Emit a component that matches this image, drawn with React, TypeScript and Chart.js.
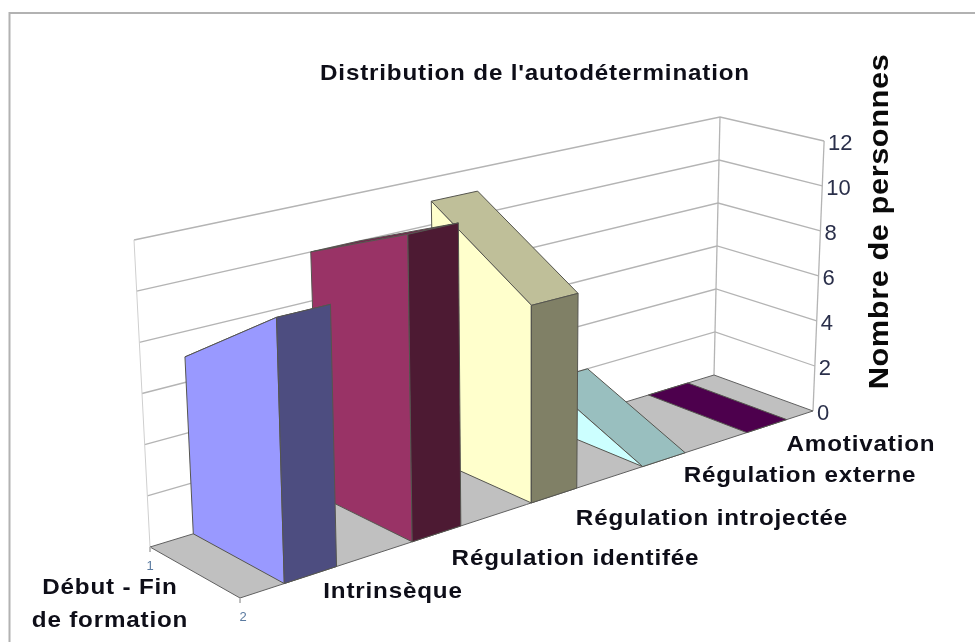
import React, { useEffect, useRef } from "react";
import { Chart, registerables } from "chart.js";

Chart.register(...registerables);

// ---- data ----
const categories = ["Intrinsèque", "Régulation identifée", "Régulation introjectée", "Régulation externe", "Amotivation"];
const debut = [7, 10, 11, 2, 0];
const fin = [10, 12, 8, 0, 0];
const depthLabels = ["1", "2"];
const valueTicks = [0, 2, 4, 6, 8, 10, 12];
const MAX_VALUE = 12;

const chartTitle = "Distribution de l'autodétermination";
const valueAxisTitle = "Nombre de personnes";
const depthAxisTitle = ["Début - Fin", "de formation"];

// ---- colours ----
const sideColors = ["#9999ff", "#993366", "#ffffcc", "#ccffff", "#660066"];
const topColors = ["#7373bf", "#73264d", "#bfbf99", "#99bfbf", "#4d004d"];
const frontColors = ["#4d4d80", "#4d1a33", "#808066", "#668080", "#330033"];

// ---- 3D projection of the box ----
const W = 975;
const H = 642;
const floorBox = { O: [150, 547], X: [714, 375], Y: [240, 598] };
const topBox = { O: [134, 240], X: [720, 117], Y: [229, 274.4] };
const wO = 0.8846;
const wX = 1.0409;
const wY = 0.8437;
const BAR_START = 0.33;
const BAR_END = 0.73;

type Pt = { x: number; y: number };

function planePoint(p: { O: number[]; X: number[]; Y: number[] }, u: number, v: number) {
  const w = wO + u * (wX - wO) + v * (wY - wO);
  const c = (i: number) =>
    wO * p.O[i] + u * (wX * p.X[i] - wO * p.O[i]) + v * (wY * p.Y[i] - wO * p.O[i]);
  return [c(0) / w, c(1) / w];
}

// u: along the categories 0..1, v: depth 0 (début) .. 1 (fin), value on the axis
function project(u: number, v: number, value: number): Pt {
  const a = planePoint(floorBox, u, v);
  const b = planePoint(topBox, u, v);
  const t = value / MAX_VALUE;
  return { x: a[0] + (b[0] - a[0]) * t, y: a[1] + (b[1] - a[1]) * t };
}

const line = (data: Pt[], color: string, width = 1) => ({
  data,
  showLine: true,
  fill: false,
  borderColor: color,
  borderWidth: width,
  pointRadius: 0,
  tension: 0,
});

const poly = (data: Pt[], color: string, edge = "#55554f") => ({
  data: [...data, data[0]],
  showLine: true,
  fill: "shape",
  backgroundColor: color,
  borderColor: edge,
  borderWidth: 1,
  pointRadius: 0,
  tension: 0,
});

function buildDatasets() {
  const paintOrder: any[] = [];
  // walls and grid
  const gridColor = "#b4b4b4";
  valueTicks.forEach((t) => {
    if (t === 0) return;
    paintOrder.push(line([project(0, 0, t), project(1, 0, t), project(1, 1, t)], gridColor, 1.3));
  });
  paintOrder.push(line([project(0, 0, 0), project(0, 0, MAX_VALUE)], "#cfcfcf", 1));
  paintOrder.push(line([project(1, 0, 0), project(1, 0, MAX_VALUE)], gridColor, 1.3));
  paintOrder.push(line([project(1, 1, 0), project(1, 1, MAX_VALUE)], gridColor, 1.3));
  // floor
  paintOrder.push(poly([project(0, 0, 0), project(1, 0, 0), project(1, 1, 0), project(0, 1, 0)], "#c0c0c0", "#606060"));
  // tick marks on the depth axis
  paintOrder.push(line([project(0, 0, 0), { x: project(0, 0, 0).x, y: project(0, 0, 0).y + 5 }], "#b4b4b4", 1));
  paintOrder.push(line([project(0, 1, 0), { x: project(0, 1, 0).x, y: project(0, 1, 0).y + 5 }], "#b4b4b4", 1));
  // bars, from the farthest to the nearest
  for (let i = categories.length - 1; i >= 0; i--) {
    const slot = 1 / categories.length;
    const u0 = (i + BAR_START) * slot;
    const u1 = (i + BAR_END) * slot;
    const a = debut[i];
    const b = fin[i];
    paintOrder.push(poly([project(u0, 0, a), project(u1, 0, a), project(u1, 1, b), project(u0, 1, b)], topColors[i]));
    if (a > 0 || b > 0) {
      paintOrder.push(poly([project(u0, 0, 0), project(u0, 0, a), project(u0, 1, b), project(u0, 1, 0)], sideColors[i]));
    }
    if (b > 0) {
      paintOrder.push(poly([project(u0, 1, 0), project(u0, 1, b), project(u1, 1, b), project(u1, 1, 0)], frontColors[i]));
    }
  }
  // Chart.js paints the first dataset last
  return paintOrder.reverse();
}

// ---- text layout ----
const FONT = '"Liberation Sans", Arial, sans-serif';
const INK = "#0e0e18";
const categoryLabelPos = [
  [393, 592],
  [575.5, 558.5],
  [712, 518.5],
  [800, 475.5],
  [861, 444.5],
];

function wideText(c: any, text: string, x: number, y: number, stretch: number, spacing: number) {
  c.save();
  c.translate(x, y);
  c.scale(stretch, 1);
  c.letterSpacing = `${spacing}px`;
  c.fillText(text, 0, 0);
  c.restore();
}

const textPlugin = {
  id: "texts",
  afterDatasetsDraw(chart: any) {
    const c = chart.ctx;
    c.save();
    // outer frame
    c.strokeStyle = "#b2b2b2";
    c.lineWidth = 2;
    c.beginPath();
    c.moveTo(9.5, H);
    c.lineTo(9.5, 13);
    c.lineTo(W, 13);
    c.stroke();

    c.textAlign = "center";
    c.textBaseline = "middle";
    c.fillStyle = INK;
    c.font = `bold 22px ${FONT}`;
    wideText(c, chartTitle, 535, 74, 1.1, 0.75);

    categories.forEach((label, i) => {
      wideText(c, label, categoryLabelPos[i][0], categoryLabelPos[i][1], 1.1, 0.75);
    });
    wideText(c, depthAxisTitle[0], 110, 587.5, 1.1, 0.75);
    wideText(c, depthAxisTitle[1], 110, 620.5, 1.1, 0.75);

    c.font = `22px ${FONT}`;
    c.fillStyle = "#2a2f4a";
    valueTicks.forEach((t) => {
      const p = project(1, 1, t);
      c.textAlign = "left";
      c.fillText(String(t), p.x + 4, p.y + 2.5);
    });

    c.textAlign = "center";
    c.font = `13px ${FONT}`;
    c.fillStyle = "#5a7aa0";
    const d1 = project(0, 0, 0);
    const d2 = project(0, 1, 0);
    c.fillText(depthLabels[0], d1.x, d1.y + 19);
    c.fillText(depthLabels[1], d2.x + 3, d2.y + 19);

    c.save();
    c.translate(888, 221.5);
    c.rotate(-Math.PI / 2);
    c.textBaseline = "alphabetic";
    c.font = `bold 28px ${FONT}`;
    c.fillStyle = "#0a0a0a";
    wideText(c, valueAxisTitle, 0, 0, 1.1, 0.5);
    c.restore();
    c.restore();
  },
};

export default function App() {
  const ref = useRef<HTMLCanvasElement>(null);
  useEffect(() => {
    const chart = new Chart(ref.current as HTMLCanvasElement, {
      type: "scatter",
      data: { datasets: buildDatasets() as any },
      options: {
        animation: false,
        responsive: false,
        devicePixelRatio: 1,
        layout: { padding: 0 },
        plugins: { legend: { display: false }, tooltip: { enabled: false }, title: { display: false } },
        scales: {
          x: { type: "linear", min: 0, max: W, display: false },
          y: { type: "linear", min: 0, max: H, reverse: true, display: false },
        },
      } as any,
      plugins: [textPlugin as any],
    });
    return () => chart.destroy();
  }, []);
  return (
    <div style={{ position: "absolute", left: 0, top: 0, width: W, height: H, background: "#fff" }}>
      <canvas ref={ref} width={W} height={H} style={{ display: "block", filter: "blur(0.6px)" }} />
    </div>
  );
}
